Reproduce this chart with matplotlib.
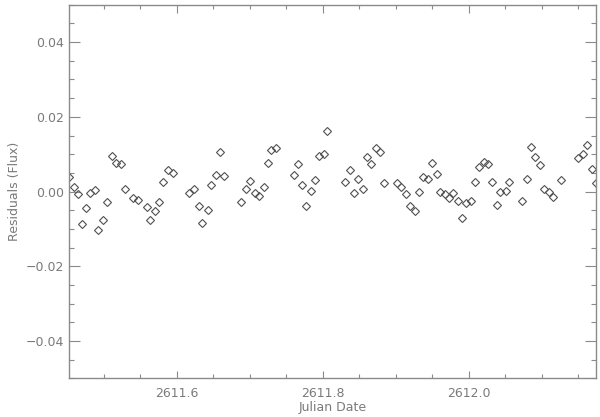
import numpy as np
import matplotlib
matplotlib.use('Agg')
import matplotlib.pyplot as plt
from matplotlib.ticker import MultipleLocator, FuncFormatter

# julian date (days - 2450000 style offset kept as shown)
jd = [2611.4527, 2611.4586, 2611.4641, 2611.4701, 2611.4756, 2611.4811, 2611.4884, 2611.4925,
      2611.4990, 2611.5045, 2611.5113, 2611.5172, 2611.5237, 2611.5292, 2611.5406, 2611.5474,
      2611.5594, 2611.5639, 2611.5698, 2611.5763, 2611.5817, 2611.5882, 2611.5945, 2611.6174,
      2611.6233, 2611.6302, 2611.6349, 2611.6421, 2611.6467, 2611.6531, 2611.6586, 2611.6651,
      2611.6884, 2611.6947, 2611.7008, 2611.7071, 2611.7131, 2611.7190, 2611.7245, 2611.7296,
      2611.7355, 2611.7602, 2611.7657, 2611.7721, 2611.7776, 2611.7835, 2611.7900, 2611.7955,
      2611.8018, 2611.8065, 2611.8312, 2611.8371, 2611.8430, 2611.8490, 2611.8549, 2611.8608,
      2611.8668, 2611.8728, 2611.8787, 2611.8841, 2611.9012, 2611.9075, 2611.9139, 2611.9194,
      2611.9259, 2611.9318, 2611.9373, 2611.9437, 2611.9496, 2611.9561, 2611.9606, 2611.9675,
      2611.9734, 2611.9789, 2611.9849, 2611.9904, 2611.9967, 2612.0032, 2612.0086, 2612.0146,
      2612.0206, 2612.0261, 2612.0324, 2612.0388, 2612.0430, 2612.0508, 2612.0553, 2612.0736,
      2612.0796, 2612.0855, 2612.0914, 2612.0979, 2612.1034, 2612.1098, 2612.1157, 2612.1267,
      2612.1504, 2612.1565, 2612.1628, 2612.1688, 2612.1745]

resid = [0.0040, 0.0011, -0.0006, -0.0087, -0.0043, -0.0005, 0.0005, -0.0104,
         -0.0077, -0.0028, 0.0095, 0.0076, 0.0073, 0.0008, -0.0018, -0.0023,
         -0.0042, -0.0077, -0.0052, -0.0028, 0.0026, 0.0058, 0.0049, -0.0005,
         0.0008, -0.0039, -0.0084, -0.0050, 0.0018, 0.0045, 0.0107, 0.0042,
         -0.0028, 0.0007, 0.0027, -0.0003, -0.0011, 0.0012, 0.0077, 0.0110,
         0.0117, 0.0045, 0.0075, 0.0018, -0.0038, 0.0001, 0.0031, 0.0096,
         0.0101, 0.0163, 0.0025, 0.0058, -0.0003, 0.0034, 0.0006, 0.0092,
         0.0074, 0.0117, 0.0106, 0.0024, 0.0024, 0.0011, -0.0006, -0.0038,
         -0.0051, -0.0001, 0.0040, 0.0034, 0.0077, 0.0048, -0.0001, -0.0007,
         -0.0017, -0.0005, -0.0024, -0.0071, -0.0031, -0.0026, 0.0025, 0.0065,
         0.0078, 0.0073, 0.0025, -0.0036, -0.0002, 0.0001, 0.0025, -0.0025,
         0.0034, 0.0120, 0.0092, 0.0072, 0.0008, -0.0001, -0.0015, 0.0030,
         0.0091, 0.0101, 0.0125, 0.0060, 0.0024]

axis_col = '#8a8a8a'
text_col = '#7a7a7a'

plt.rcParams['font.family'] = ['DejaVu Sans']

fig = plt.figure(figsize=(6, 4.17), dpi=100)
ax = fig.add_axes([0.1155, 0.0928, 0.8778, 0.8957])

ax.plot(jd, resid, 'D', markersize=3.8, markerfacecolor='none',
        markeredgecolor='#505050', markeredgewidth=0.8, clip_on=True)

ax.set_xlim(min(jd), max(jd))
ax.set_ylim(-0.05, 0.05)

ax.xaxis.set_major_locator(MultipleLocator(0.2))
ax.xaxis.set_minor_locator(MultipleLocator(0.05))
ax.yaxis.set_major_locator(MultipleLocator(0.02))
ax.yaxis.set_minor_locator(MultipleLocator(0.005))
ax.xaxis.set_major_formatter(FuncFormatter(lambda v, p: '%.1f' % v))
# IDL style long minus
ax.yaxis.set_major_formatter(FuncFormatter(lambda v, p: ('%.2f' % v).replace('-', '\u2212')))

for s in ax.spines.values():
    s.set_color(axis_col)
    s.set_linewidth(1.0)

ax.tick_params(axis='both', which='both', direction='in', top=True, right=True,
               color=axis_col, labelcolor=text_col, labelsize=9, width=0.8)
ax.tick_params(axis='x', which='major', length=5.4, pad=6)
ax.tick_params(axis='x', which='minor', length=2.7)
ax.tick_params(axis='y', which='major', length=7.6, pad=4)
ax.tick_params(axis='y', which='minor', length=3.8)

ax.set_xlabel('Julian Date', color=text_col, fontsize=9, labelpad=1)
ax.set_ylabel('Residuals (Flux)', color=text_col, fontsize=9, labelpad=3.5)

plt.savefig('out.png', dpi=100)
